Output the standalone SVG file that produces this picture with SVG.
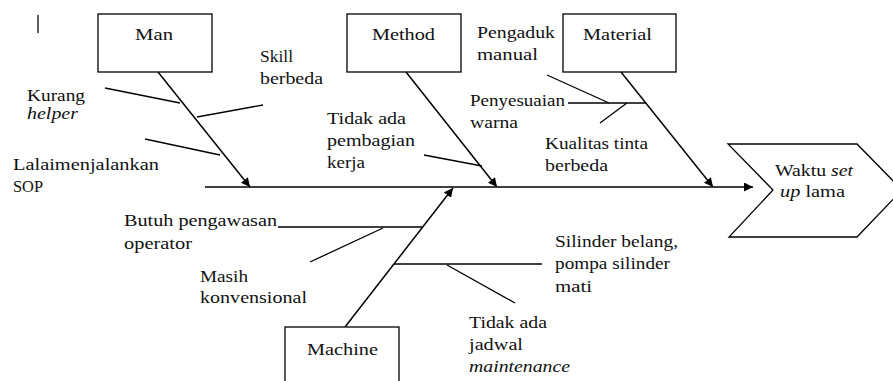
<svg xmlns="http://www.w3.org/2000/svg" width="893" height="381" viewBox="0 0 893 381" font-family="Liberation Serif, Times New Roman, Tinos, Noto Serif, DejaVu Serif, FreeSerif, serif">
<defs>
<marker id="ah" viewBox="0 0 10 10" refX="10" refY="5" markerWidth="9" markerHeight="9" markerUnits="userSpaceOnUse" orient="auto">
<path d="M0,0 L10,5 L0,10 z" fill="#000"/>
</marker>
</defs>
<style>
.box{fill:#fff;stroke:#000;stroke-width:1.3}
.bone{fill:none;stroke:#000;stroke-width:1.5;marker-end:url(#ah)}
.br{fill:none;stroke:#000;stroke-width:1.3}
text{font-family:Liberation Serif, Times New Roman, Tinos, Noto Serif, DejaVu Serif, FreeSerif, serif;font-size:16.5px;fill:#111}
.lbl{font-size:17.5px}
.i{font-style:italic}
</style>
<rect width="893" height="381" fill="#fff"/>
<line x1="38" y1="15" x2="38" y2="33" class="br"/>

<g id="connectors">
<line class="bone" x1="205" y1="187" x2="753" y2="187"/>
<line class="bone" x1="158" y1="72" x2="250" y2="187"/>
<line class="bone" x1="406" y1="72" x2="497" y2="187"/>
<line class="bone" x1="621" y1="72" x2="713" y2="187"/>
<line class="bone" x1="345" y1="327" x2="453" y2="188"/>
<line class="br" x1="105" y1="88" x2="180" y2="103"/>
<line class="br" x1="197" y1="117" x2="263" y2="105"/>
<line class="br" x1="145" y1="139" x2="220" y2="155"/>
<line class="br" x1="424" y1="155" x2="482" y2="166"/>
<line class="br" x1="547" y1="75" x2="609" y2="103"/>
<line class="br" x1="568" y1="103" x2="646" y2="103"/>
<line class="br" x1="600" y1="123" x2="627" y2="103"/>
<line class="br" x1="278" y1="227" x2="422" y2="227"/>
<line class="br" x1="310" y1="262" x2="383" y2="228"/>
<line class="br" x1="394" y1="264" x2="542" y2="264"/>
<line class="br" x1="447" y1="265" x2="515" y2="303"/>
</g>

<g id="man">
<rect class="box" x="98" y="14" width="114" height="58"/>
<text class="lbl" x="135" y="40" textLength="38" lengthAdjust="spacingAndGlyphs">Man</text>
</g>
<g id="method">
<rect class="box" x="347" y="14" width="114" height="58"/>
<text class="lbl" x="372" y="40" textLength="63" lengthAdjust="spacingAndGlyphs">Method</text>
</g>
<g id="material">
<rect class="box" x="563" y="14" width="113" height="58"/>
<text class="lbl" x="583" y="40" textLength="69" lengthAdjust="spacingAndGlyphs">Material</text>
</g>
<g id="machine">
<rect class="box" x="285" y="327" width="114" height="60"/>
<text class="lbl" x="307" y="355" textLength="71" lengthAdjust="spacingAndGlyphs">Machine</text>
</g>
<g id="head">
<path class="box" d="M728,144 L857,144 L902,190 L857,237 L729,237 L773,190 Z"/>
<text x="775" y="176" textLength="78" lengthAdjust="spacingAndGlyphs">Waktu <tspan class="i">set</tspan></text>
<text x="780" y="197" textLength="65" lengthAdjust="spacingAndGlyphs"><tspan class="i">up</tspan> lama</text>
</g>

<g id="man-causes">
<text x="260" y="62" textLength="33" lengthAdjust="spacingAndGlyphs">Skill</text>
<text x="260" y="84" textLength="63" lengthAdjust="spacingAndGlyphs">berbeda</text>
<text x="27" y="101" textLength="58" lengthAdjust="spacingAndGlyphs">Kurang</text>
<text class="i" x="27" y="119" textLength="51" lengthAdjust="spacingAndGlyphs">helper</text>
<text x="13" y="170" textLength="146" lengthAdjust="spacingAndGlyphs">Lalaimenjalankan</text>
<text x="13" y="192" textLength="30" lengthAdjust="spacingAndGlyphs">SOP</text>
</g>
<g id="method-causes">
<text x="327" y="124" textLength="79" lengthAdjust="spacingAndGlyphs">Tidak ada</text>
<text x="327" y="146" textLength="88" lengthAdjust="spacingAndGlyphs">pembagian</text>
<text x="327" y="168" textLength="38" lengthAdjust="spacingAndGlyphs">kerja</text>
</g>
<g id="material-causes">
<text x="477" y="38" textLength="78" lengthAdjust="spacingAndGlyphs">Pengaduk</text>
<text x="477" y="60" textLength="61" lengthAdjust="spacingAndGlyphs">manual</text>
<text x="470" y="106" textLength="95" lengthAdjust="spacingAndGlyphs">Penyesuaian</text>
<text x="470" y="128" textLength="48" lengthAdjust="spacingAndGlyphs">warna</text>
<text x="545" y="149" textLength="103" lengthAdjust="spacingAndGlyphs">Kualitas tinta</text>
<text x="545" y="171" textLength="63" lengthAdjust="spacingAndGlyphs">berbeda</text>
</g>
<g id="machine-causes">
<text x="124" y="226" textLength="153" lengthAdjust="spacingAndGlyphs">Butuh pengawasan</text>
<text x="124" y="249" textLength="68" lengthAdjust="spacingAndGlyphs">operator</text>
<text x="200" y="282" textLength="48" lengthAdjust="spacingAndGlyphs">Masih</text>
<text x="200" y="303" textLength="107" lengthAdjust="spacingAndGlyphs">konvensional</text>
<text x="555" y="247" textLength="123" lengthAdjust="spacingAndGlyphs">Silinder belang,</text>
<text x="555" y="269" textLength="115" lengthAdjust="spacingAndGlyphs">pompa silinder</text>
<text x="555" y="292" textLength="37" lengthAdjust="spacingAndGlyphs">mati</text>
<text x="469" y="328" textLength="78" lengthAdjust="spacingAndGlyphs">Tidak ada</text>
<text x="469" y="350" textLength="54" lengthAdjust="spacingAndGlyphs">jadwal</text>
<text class="i" x="469" y="372" textLength="101" lengthAdjust="spacingAndGlyphs">maintenance</text>
</g>
</svg>
